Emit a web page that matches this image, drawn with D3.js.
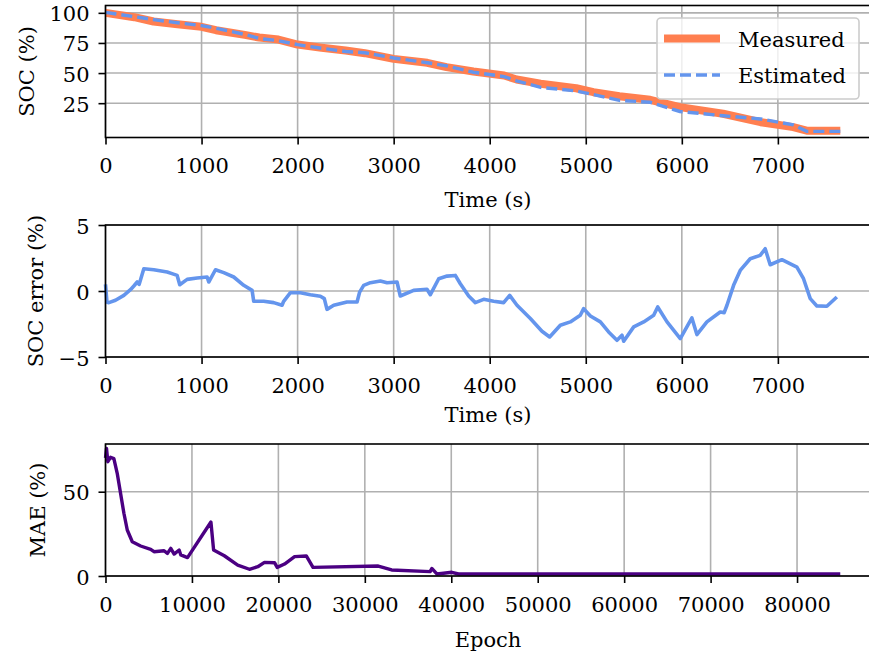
<!DOCTYPE html>
<html>
<head>
<meta charset="utf-8">
<script src="https://cdn.jsdelivr.net/npm/d3@7"></script>
<style>
  html, body { margin: 0; padding: 0; background: #ffffff; }
  svg { display: block; font-family: "DejaVu Serif", serif; }
</style>
</head>
<body>
<svg id="chart" width="869" height="655"></svg>
<script>
// ---- SOC over a discharge run (s, %) ----
const socTime      = [0, 300, 500, 750, 1000, 1150, 1450, 1600, 1800, 2000, 2250, 2500, 2700, 3000, 3350, 3550, 3830, 4150, 4280, 4530, 4900, 5080, 5350, 5670, 5980, 6430, 6820, 7160, 7300, 7650];
const socMeasured  = [100, 96.4, 92.8, 90.6, 88.4, 85.6, 81.7, 79.5, 77.8, 73.7, 71.0, 68.7, 66.5, 61.8, 58.5, 54.9, 51.3, 48.0, 44.7, 41.1, 37.4, 34.1, 30.8, 27.8, 21.7, 16.2, 9.2, 5.1, 2.2, 2.2];
const socEstimated = [100.4, 96.8, 94.4, 91.8, 89.4, 87.2, 82.1, 78.7, 76.9, 73.6, 70.6, 67.9, 66.9, 62.5, 58.6, 56.0, 50.7, 47.1, 43.6, 38.1, 35.2, 32.1, 27.3, 25.8, 18.1, 14.6, 11.9, 7.0, 1.6, 1.6];

// ---- SOC estimation error (s, %) ----
const errTime  = [0, 15, 35, 104, 191, 260, 295, 330, 350, 399, 503, 642, 700, 746, 773, 850, 954, 1058, 1075, 1145, 1231, 1335, 1439, 1526, 1543, 1647, 1751, 1838, 1855, 1925, 2029, 2133, 2237, 2278, 2306, 2376, 2514, 2619, 2646, 2688, 2758, 2862, 2931, 3035, 3069, 3208, 3347, 3382, 3469, 3556, 3642, 3694, 3781, 3850, 3937, 4041, 4145, 4208, 4284, 4423, 4544, 4624, 4735, 4839, 4943, 4978, 5048, 5152, 5238, 5325, 5377, 5395, 5499, 5603, 5707, 5749, 5846, 5984, 6105, 6157, 6261, 6400, 6441, 6470, 6539, 6608, 6712, 6816, 6868, 6920, 7042, 7198, 7267, 7337, 7406, 7510, 7614];
const errValue = [0.5, -0.85, -0.88, -0.7, -0.33, 0.1, 0.38, 0.68, 0.5, 1.69, 1.61, 1.44, 1.3, 1.18, 0.48, 0.88, 0.98, 1.06, 0.68, 1.61, 1.39, 1.06, 0.43, 0.05, -0.78, -0.78, -0.88, -1.08, -0.78, -0.13, -0.13, -0.28, -0.4, -0.58, -1.39, -1.08, -0.83, -0.83, -0.08, 0.43, 0.63, 0.76, 0.63, 0.68, -0.38, 0.05, 0.13, -0.28, 0.93, 1.13, 1.18, 0.55, -0.38, -0.88, -0.63, -0.78, -0.88, -0.33, -1.08, -2.09, -3.05, -3.48, -2.59, -2.34, -1.84, -1.34, -1.89, -2.34, -3.1, -3.73, -3.35, -3.8, -2.72, -2.34, -1.84, -1.21, -2.34, -3.6, -2.04, -3.3, -2.34, -1.59, -1.64, -1.08, 0.43, 1.56, 2.44, 2.7, 3.2, 1.99, 2.37, 1.81, 0.93, -0.58, -1.13, -1.16, -0.45];

// ---- training curve (epoch, MAE %) ----
const maeEpoch = [0, 116, 270, 580, 968, 1355, 2130, 2517, 3098, 4065, 5227, 5614, 6776, 7164, 7551, 7938, 8519, 8712, 9486, 12197, 12507, 13745, 15294, 16649, 17617, 18391, 19553, 19862, 20714, 21875, 23230, 24005, 31554, 33103, 37555, 37749, 38330, 39102, 40070, 40844, 85000];
const maeValue = [70, 75.7, 67.8, 70.4, 69.6, 60.9, 37.2, 27.3, 20.3, 17.8, 15.8, 14.4, 15.0, 13.4, 16.4, 13.0, 15.4, 12.5, 10.9, 32.0, 15.4, 12.0, 6.5, 4.0, 5.5, 8.1, 7.9, 5.1, 7.1, 11.5, 11.9, 5.1, 5.9, 3.6, 2.6, 4.5, 1.2, 1.6, 2.2, 1.2, 1.2];

// ---- tick values ----
const timeTicks  = [0, 1000, 2000, 3000, 4000, 5000, 6000, 7000];
const socTicks   = [25, 50, 75, 100];
const errTicks   = [-5, 0, 5];
const epochTicks = [0, 10000, 20000, 30000, 40000, 50000, 60000, 70000, 80000];
const maeTicks   = [0, 50];

const FONT = 21;
const svg = d3.select("#chart");
const left = 105.5, right = 877;

function panel(cfg) {
  const x = d3.scaleLinear().domain(cfg.xDomain).range([left, right]);
  const y = d3.scaleLinear().domain(cfg.yDomain).range([cfg.bottom, cfg.top]);
  const g = svg.append("g");

  // grid
  g.append("g").selectAll("line").data(cfg.xTicks).join("line")
    .attr("x1", d => x(d)).attr("x2", d => x(d))
    .attr("y1", cfg.top).attr("y2", cfg.bottom)
    .attr("stroke", "#b0b0b0").attr("stroke-width", 1.6);
  g.append("g").selectAll("line").data(cfg.yTicks).join("line")
    .attr("x1", left).attr("x2", right)
    .attr("y1", d => y(d)).attr("y2", d => y(d))
    .attr("stroke", "#b0b0b0").attr("stroke-width", 1.6);

  // data
  const plot = g.append("g");
  cfg.draw(plot, x, y);

  // axes
  const xa = g.append("g").attr("transform", `translate(0,${cfg.bottom})`)
    .call(d3.axisBottom(x).tickValues(cfg.xTicks).tickSize(7).tickFormat(d3.format("d")));
  xa.selectAll("text").attr("y", 35.5).attr("dy", null);
  const ya = g.append("g").attr("transform", `translate(${left},0)`)
    .call(d3.axisLeft(y).tickValues(cfg.yTicks).tickSize(7).tickFormat(d => d < 0 ? "\u2212" + Math.abs(d) : String(d)));
  ya.selectAll("text").attr("x", -16).attr("dy", null).attr("y", 8);
  [xa, ya].forEach(a => {
    a.select(".domain").remove();
    a.selectAll("line").attr("stroke", "#000").attr("stroke-width", 1.6);
    a.selectAll("text").attr("fill", "#000").style("font-size", FONT + "px").style("font-family", "DejaVu Serif");
  });

  // spines
  g.append("rect").attr("x", left).attr("y", cfg.top)
    .attr("width", right - left).attr("height", cfg.bottom - cfg.top)
    .attr("fill", "none").attr("stroke", "#000").attr("stroke-width", 1.6);

  // labels
  g.append("text").attr("x", 488).attr("y", cfg.xLabelY)
    .attr("text-anchor", "middle").style("font-size", FONT + "px").text(cfg.xLabel);
  g.append("text")
    .attr("transform", `translate(${cfg.yLabelX},${(cfg.top + cfg.bottom) / 2}) rotate(-90)`)
    .attr("text-anchor", "middle").style("font-size", FONT + "px").text(cfg.yLabel);
}

// Panel 1: measured vs estimated SOC
panel({
  top: 5.5, bottom: 137.5,
  xDomain: [0, 8032], yDomain: [-3.5, 106.1],
  xTicks: timeTicks, yTicks: socTicks,
  xLabel: "Time (s)", xLabelY: 207,
  yLabel: "SOC (%)", yLabelX: 34,
  draw: (p, x, y) => {
    const line = d3.line().x(d => x(d[0])).y(d => y(d[1]));
    p.append("path").datum(d3.zip(socTime, socMeasured)).attr("d", line)
      .attr("fill", "none").attr("stroke", "#ff7f50").attr("stroke-width", 8)
      .attr("stroke-linejoin", "round");
    p.append("path").datum(d3.zip(socTime, socEstimated)).attr("d", line)
      .attr("fill", "none").attr("stroke", "#6495ed").attr("stroke-width", 3.4)
      .attr("stroke-dasharray", "11,5");
  }
});

// Panel 2: SOC error
panel({
  top: 225, bottom: 357,
  xDomain: [0, 8032], yDomain: [-5, 5],
  xTicks: timeTicks, yTicks: errTicks,
  xLabel: "Time (s)", xLabelY: 422,
  yLabel: "SOC error (%)", yLabelX: 43,
  draw: (p, x, y) => {
    const line = d3.line().x(d => x(d[0])).y(d => y(d[1]));
    p.append("path").datum(d3.zip(errTime, errValue)).attr("d", line)
      .attr("fill", "none").attr("stroke", "#6495ed").attr("stroke-width", 3.6)
      .attr("stroke-linejoin", "round");
  }
});

// Panel 3: training MAE
panel({
  top: 444, bottom: 576,
  xDomain: [0, 89250], yDomain: [0, 78.3],
  xTicks: epochTicks, yTicks: maeTicks,
  xLabel: "Epoch", xLabelY: 647,
  yLabel: "MAE (%)", yLabelX: 45,
  draw: (p, x, y) => {
    const line = d3.line().x(d => x(d[0])).y(d => y(d[1]));
    p.append("path").datum(d3.zip(maeEpoch, maeValue)).attr("d", line)
      .attr("fill", "none").attr("stroke", "#4b0082").attr("stroke-width", 3.4)
      .attr("stroke-linejoin", "round");
  }
});

// Legend for panel 1
const lg = svg.append("g");
lg.append("rect").attr("x", 657).attr("y", 18).attr("width", 202).attr("height", 81)
  .attr("rx", 4).attr("fill", "#ffffff").attr("fill-opacity", 0.8)
  .attr("stroke", "#cccccc").attr("stroke-width", 1.6);
const legendItems = [
  { label: "Measured", color: "#ff7f50", width: 8, dash: null, y: 38.5 },
  { label: "Estimated", color: "#6495ed", width: 3.4, dash: "11,5", y: 75 }
];
legendItems.forEach(it => {
  lg.append("line").attr("x1", 664).attr("x2", 720).attr("y1", it.y).attr("y2", it.y)
    .attr("stroke", it.color).attr("stroke-width", it.width)
    .attr("stroke-dasharray", it.dash);
  lg.append("text").attr("x", 738).attr("y", it.y + 8)
    .style("font-size", FONT + "px").text(it.label);
});
</script>
</body>
</html>
